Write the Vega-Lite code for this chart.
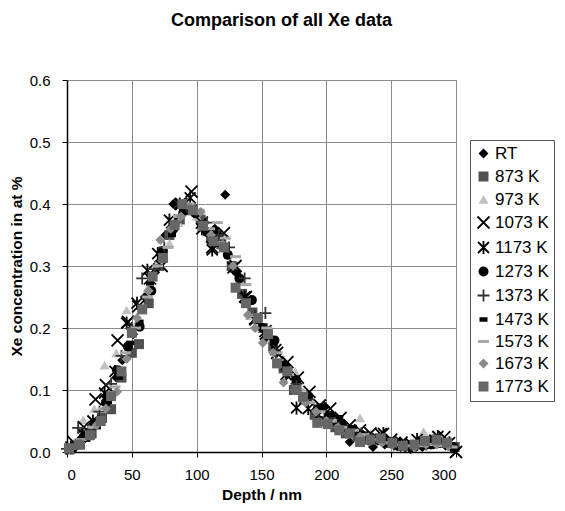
{
  "$schema": "https://vega.github.io/schema/vega-lite/v6.json",
  "width": 389,
  "height": 372,
  "autosize": {"type": "none"},
  "padding": {"left": 67, "top": 80, "right": 109, "bottom": 59},
  "title": {"text": "Comparison of all Xe data", "fontSize": 18, "fontWeight": "bold", "color": "#000000", "frame": "group", "anchor": "middle", "baseline": "alphabetic", "offset": 29, "dx": 20},
  "config": {
    "font": "Liberation Sans",
    "view": {"stroke": "#808080", "strokeWidth": 1},
    "axis": {"labelFontSize": 15, "labelColor": "#000000", "titleFontSize": 15.5, "titleFontWeight": "bold", "titleColor": "#000000", "domainColor": "#000000", "domainWidth": 1.5, "tickColor": "#000000", "tickSize": 5, "gridColor": "#8c8c8c", "gridOpacity": 1, "gridWidth": 1},
    "legend": {"labelFontSize": 17, "labelColor": "#000000", "symbolSize": 100, "symbolStrokeWidth": 1.8, "strokeColor": "#555555", "padding": 5, "rowPadding": 4, "labelOffset": 3}
  },
  "data": {"values": [
    {"series":"RT","depth":4,"conc":0.006},{"series":"RT","depth":13,"conc":0.02},{"series":"RT","depth":21,"conc":0.045},{"series":"RT","depth":30,"conc":0.09},{"series":"RT","depth":38,"conc":0.12},{"series":"RT","depth":42.6,"conc":0.148},{"series":"RT","depth":51,"conc":0.19},{"series":"RT","depth":60,"conc":0.25},{"series":"RT","depth":68,"conc":0.29},{"series":"RT","depth":76,"conc":0.35},{"series":"RT","depth":82,"conc":0.4},{"series":"RT","depth":90,"conc":0.39},{"series":"RT","depth":98,"conc":0.385},{"series":"RT","depth":106,"conc":0.37},{"series":"RT","depth":114,"conc":0.36},{"series":"RT","depth":122,"conc":0.415},{"series":"RT","depth":130,"conc":0.29},{"series":"RT","depth":138,"conc":0.245},{"series":"RT","depth":146,"conc":0.215},{"series":"RT","depth":154,"conc":0.185},{"series":"RT","depth":162,"conc":0.16},{"series":"RT","depth":170,"conc":0.125},{"series":"RT","depth":178,"conc":0.1},{"series":"RT","depth":186,"conc":0.085},{"series":"RT","depth":192,"conc":0.068},{"series":"RT","depth":199,"conc":0.073},{"series":"RT","depth":210,"conc":0.045},{"series":"RT","depth":218,"conc":0.016},{"series":"RT","depth":227,"conc":0.03},{"series":"RT","depth":236,"conc":0.008},{"series":"RT","depth":245,"conc":0.012},{"series":"RT","depth":257,"conc":0.017},{"series":"RT","depth":265,"conc":0.005},{"series":"RT","depth":274,"conc":0.008},{"series":"RT","depth":283,"conc":0.012},{"series":"RT","depth":292,"conc":0.01},
    {"series":"873 K","depth":2,"conc":0.004},{"series":"873 K","depth":10,"conc":0.012},{"series":"873 K","depth":19,"conc":0.03},{"series":"873 K","depth":27,"conc":0.055},{"series":"873 K","depth":34,"conc":0.069},{"series":"873 K","depth":42,"conc":0.12},{"series":"873 K","depth":50,"conc":0.16},{"series":"873 K","depth":55.5,"conc":0.174},{"series":"873 K","depth":63,"conc":0.24},{"series":"873 K","depth":71,"conc":0.3},{"series":"873 K","depth":79,"conc":0.35},{"series":"873 K","depth":87,"conc":0.375},{"series":"873 K","depth":95,"conc":0.39},{"series":"873 K","depth":103,"conc":0.375},{"series":"873 K","depth":111,"conc":0.345},{"series":"873 K","depth":119,"conc":0.335},{"series":"873 K","depth":127,"conc":0.3},{"series":"873 K","depth":135,"conc":0.255},{"series":"873 K","depth":143,"conc":0.225},{"series":"873 K","depth":151,"conc":0.2},{"series":"873 K","depth":159,"conc":0.17},{"series":"873 K","depth":167,"conc":0.135},{"series":"873 K","depth":175,"conc":0.1},{"series":"873 K","depth":183,"conc":0.085},{"series":"873 K","depth":191,"conc":0.06},{"series":"873 K","depth":199,"conc":0.05},{"series":"873 K","depth":207,"conc":0.04},{"series":"873 K","depth":215,"conc":0.03},{"series":"873 K","depth":224,"conc":0.025},{"series":"873 K","depth":232,"conc":0.02},{"series":"873 K","depth":241,"conc":0.022},{"series":"873 K","depth":249,"conc":0.015},{"series":"873 K","depth":258,"conc":0.01},{"series":"873 K","depth":266,"conc":0.01},{"series":"873 K","depth":274,"conc":0.015},{"series":"873 K","depth":283,"conc":0.02},{"series":"873 K","depth":291,"conc":0.015},{"series":"873 K","depth":299,"conc":0.008},
    {"series":"973 K","depth":4,"conc":0.01},{"series":"973 K","depth":12.5,"conc":0.052},{"series":"973 K","depth":21,"conc":0.07},{"series":"973 K","depth":29,"conc":0.14},{"series":"973 K","depth":38,"conc":0.16},{"series":"973 K","depth":46,"conc":0.229},{"series":"973 K","depth":54,"conc":0.21},{"series":"973 K","depth":62,"conc":0.264},{"series":"973 K","depth":71,"conc":0.31},{"series":"973 K","depth":79,"conc":0.337},{"series":"973 K","depth":86,"conc":0.37},{"series":"973 K","depth":92,"conc":0.406},{"series":"973 K","depth":100,"conc":0.38},{"series":"973 K","depth":108,"conc":0.355},{"series":"973 K","depth":116,"conc":0.34},{"series":"973 K","depth":125,"conc":0.32},{"series":"973 K","depth":133,"conc":0.28},{"series":"973 K","depth":141,"conc":0.22},{"series":"973 K","depth":150,"conc":0.2},{"series":"973 K","depth":158,"conc":0.185},{"series":"973 K","depth":167,"conc":0.15},{"series":"973 K","depth":176,"conc":0.13},{"series":"973 K","depth":184,"conc":0.09},{"series":"973 K","depth":192,"conc":0.07},{"series":"973 K","depth":201,"conc":0.055},{"series":"973 K","depth":209,"conc":0.05},{"series":"973 K","depth":217,"conc":0.04},{"series":"973 K","depth":226,"conc":0.055},{"series":"973 K","depth":234,"conc":0.03},{"series":"973 K","depth":242,"conc":0.02},{"series":"973 K","depth":250,"conc":0.015},{"series":"973 K","depth":258,"conc":0.012},{"series":"973 K","depth":267,"conc":0.015},{"series":"973 K","depth":275,"conc":0.033},{"series":"973 K","depth":283,"conc":0.02},{"series":"973 K","depth":292,"conc":0.018},
    {"series":"1073 K","depth":5,"conc":0.016},{"series":"1073 K","depth":13,"conc":0.04},{"series":"1073 K","depth":22,"conc":0.085},{"series":"1073 K","depth":30,"conc":0.108},{"series":"1073 K","depth":39,"conc":0.18},{"series":"1073 K","depth":47,"conc":0.21},{"series":"1073 K","depth":55,"conc":0.235},{"series":"1073 K","depth":64,"conc":0.28},{"series":"1073 K","depth":73,"conc":0.3},{"series":"1073 K","depth":81,"conc":0.37},{"series":"1073 K","depth":88,"conc":0.4},{"series":"1073 K","depth":96,"conc":0.42},{"series":"1073 K","depth":104,"conc":0.37},{"series":"1073 K","depth":112,"conc":0.33},{"series":"1073 K","depth":121,"conc":0.353},{"series":"1073 K","depth":130,"conc":0.3},{"series":"1073 K","depth":138,"conc":0.25},{"series":"1073 K","depth":145,"conc":0.215},{"series":"1073 K","depth":153,"conc":0.195},{"series":"1073 K","depth":162,"conc":0.16},{"series":"1073 K","depth":170,"conc":0.145},{"series":"1073 K","depth":178,"conc":0.12},{"series":"1073 K","depth":187,"conc":0.097},{"series":"1073 K","depth":195,"conc":0.075},{"series":"1073 K","depth":203,"conc":0.07},{"series":"1073 K","depth":211,"conc":0.055},{"series":"1073 K","depth":218,"conc":0.043},{"series":"1073 K","depth":226,"conc":0.035},{"series":"1073 K","depth":234,"conc":0.03},{"series":"1073 K","depth":242,"conc":0.029},{"series":"1073 K","depth":250,"conc":0.02},{"series":"1073 K","depth":258,"conc":0.015},{"series":"1073 K","depth":266,"conc":0.012},{"series":"1073 K","depth":275,"conc":0.015},{"series":"1073 K","depth":284,"conc":0.018},{"series":"1073 K","depth":291,"conc":0.024},{"series":"1073 K","depth":300,"conc":0.0},
    {"series":"1173 K","depth":3,"conc":0.008},{"series":"1173 K","depth":12,"conc":0.03},{"series":"1173 K","depth":20,"conc":0.05},{"series":"1173 K","depth":29,"conc":0.095},{"series":"1173 K","depth":37,"conc":0.13},{"series":"1173 K","depth":46,"conc":0.208},{"series":"1173 K","depth":54,"conc":0.24},{"series":"1173 K","depth":62,"conc":0.293},{"series":"1173 K","depth":70,"conc":0.32},{"series":"1173 K","depth":79,"conc":0.374},{"series":"1173 K","depth":87,"conc":0.4},{"series":"1173 K","depth":95,"conc":0.41},{"series":"1173 K","depth":104,"conc":0.36},{"series":"1173 K","depth":112,"conc":0.326},{"series":"1173 K","depth":120,"conc":0.34},{"series":"1173 K","depth":128,"conc":0.297},{"series":"1173 K","depth":137,"conc":0.25},{"series":"1173 K","depth":145,"conc":0.213},{"series":"1173 K","depth":153,"conc":0.19},{"series":"1173 K","depth":161,"conc":0.165},{"series":"1173 K","depth":169,"conc":0.125},{"series":"1173 K","depth":177,"conc":0.071},{"series":"1173 K","depth":186,"conc":0.07},{"series":"1173 K","depth":194,"conc":0.06},{"series":"1173 K","depth":203,"conc":0.05},{"series":"1173 K","depth":211,"conc":0.04},{"series":"1173 K","depth":219,"conc":0.035},{"series":"1173 K","depth":228,"conc":0.025},{"series":"1173 K","depth":236,"conc":0.02},{"series":"1173 K","depth":244,"conc":0.03},{"series":"1173 K","depth":253,"conc":0.015},{"series":"1173 K","depth":261,"conc":0.01},{"series":"1173 K","depth":270,"conc":0.02},{"series":"1173 K","depth":278,"conc":0.015},{"series":"1173 K","depth":286,"conc":0.025},{"series":"1173 K","depth":295,"conc":0.015},
    {"series":"1273 K","depth":5,"conc":0.008},{"series":"1273 K","depth":13,"conc":0.025},{"series":"1273 K","depth":21,"conc":0.047},{"series":"1273 K","depth":30,"conc":0.08},{"series":"1273 K","depth":38.5,"conc":0.132},{"series":"1273 K","depth":47,"conc":0.17},{"series":"1273 K","depth":56,"conc":0.202},{"series":"1273 K","depth":65,"conc":0.26},{"series":"1273 K","depth":74,"conc":0.324},{"series":"1273 K","depth":82,"conc":0.36},{"series":"1273 K","depth":91,"conc":0.39},{"series":"1273 K","depth":99,"conc":0.385},{"series":"1273 K","depth":108,"conc":0.355},{"series":"1273 K","depth":116,"conc":0.35},{"series":"1273 K","depth":124,"conc":0.318},{"series":"1273 K","depth":133,"conc":0.28},{"series":"1273 K","depth":142.6,"conc":0.245},{"series":"1273 K","depth":151,"conc":0.2},{"series":"1273 K","depth":160,"conc":0.18},{"series":"1273 K","depth":168,"conc":0.14},{"series":"1273 K","depth":177,"conc":0.115},{"series":"1273 K","depth":186,"conc":0.09},{"series":"1273 K","depth":195,"conc":0.07},{"series":"1273 K","depth":203,"conc":0.058},{"series":"1273 K","depth":212,"conc":0.045},{"series":"1273 K","depth":220,"conc":0.035},{"series":"1273 K","depth":229,"conc":0.025},{"series":"1273 K","depth":238,"conc":0.02},{"series":"1273 K","depth":246,"conc":0.015},{"series":"1273 K","depth":255,"conc":0.01},{"series":"1273 K","depth":264,"conc":0.01},{"series":"1273 K","depth":272,"conc":0.012},{"series":"1273 K","depth":281,"conc":0.012},{"series":"1273 K","depth":290,"conc":0.015},{"series":"1273 K","depth":298,"conc":0.008},
    {"series":"1373 K","depth":0,"conc":0.005},{"series":"1373 K","depth":8.6,"conc":0.039},{"series":"1373 K","depth":17,"conc":0.035},{"series":"1373 K","depth":25,"conc":0.065},{"series":"1373 K","depth":34,"conc":0.11},{"series":"1373 K","depth":42,"conc":0.155},{"series":"1373 K","depth":50,"conc":0.2},{"series":"1373 K","depth":58,"conc":0.28},{"series":"1373 K","depth":67,"conc":0.295},{"series":"1373 K","depth":75,"conc":0.33},{"series":"1373 K","depth":83,"conc":0.37},{"series":"1373 K","depth":92,"conc":0.395},{"series":"1373 K","depth":100,"conc":0.39},{"series":"1373 K","depth":108,"conc":0.37},{"series":"1373 K","depth":117,"conc":0.35},{"series":"1373 K","depth":125,"conc":0.33},{"series":"1373 K","depth":137,"conc":0.28},{"series":"1373 K","depth":145,"conc":0.22},{"series":"1373 K","depth":153,"conc":0.224},{"series":"1373 K","depth":161,"conc":0.16},{"series":"1373 K","depth":169,"conc":0.132},{"series":"1373 K","depth":177,"conc":0.11},{"series":"1373 K","depth":186,"conc":0.085},{"series":"1373 K","depth":194,"conc":0.065},{"series":"1373 K","depth":202,"conc":0.055},{"series":"1373 K","depth":210,"conc":0.04},{"series":"1373 K","depth":219,"conc":0.035},{"series":"1373 K","depth":227,"conc":0.03},{"series":"1373 K","depth":235,"conc":0.02},{"series":"1373 K","depth":244,"conc":0.02},{"series":"1373 K","depth":252,"conc":0.012},{"series":"1373 K","depth":260,"conc":0.01},{"series":"1373 K","depth":269,"conc":0.01},{"series":"1373 K","depth":277,"conc":0.012},{"series":"1373 K","depth":285,"conc":0.015},{"series":"1373 K","depth":294,"conc":0.012},
    {"series":"1473 K","depth":6,"conc":0.008},{"series":"1473 K","depth":15,"conc":0.02},{"series":"1473 K","depth":23,"conc":0.04},{"series":"1473 K","depth":31.6,"conc":0.081},{"series":"1473 K","depth":40,"conc":0.12},{"series":"1473 K","depth":48.6,"conc":0.176},{"series":"1473 K","depth":56,"conc":0.21},{"series":"1473 K","depth":64,"conc":0.272},{"series":"1473 K","depth":72,"conc":0.32},{"series":"1473 K","depth":81,"conc":0.35},{"series":"1473 K","depth":89,"conc":0.385},{"series":"1473 K","depth":97,"conc":0.395},{"series":"1473 K","depth":105,"conc":0.37},{"series":"1473 K","depth":114,"conc":0.345},{"series":"1473 K","depth":122,"conc":0.33},{"series":"1473 K","depth":131,"conc":0.29},{"series":"1473 K","depth":139,"conc":0.24},{"series":"1473 K","depth":147,"conc":0.21},{"series":"1473 K","depth":155,"conc":0.185},{"series":"1473 K","depth":160,"conc":0.18},{"series":"1473 K","depth":168,"conc":0.14},{"series":"1473 K","depth":176,"conc":0.12},{"series":"1473 K","depth":185,"conc":0.09},{"series":"1473 K","depth":193,"conc":0.073},{"series":"1473 K","depth":201,"conc":0.06},{"series":"1473 K","depth":210,"conc":0.056},{"series":"1473 K","depth":218,"conc":0.04},{"series":"1473 K","depth":227,"conc":0.03},{"series":"1473 K","depth":235,"conc":0.025},{"series":"1473 K","depth":244,"conc":0.018},{"series":"1473 K","depth":252,"conc":0.012},{"series":"1473 K","depth":261,"conc":0.008},{"series":"1473 K","depth":269,"conc":0.01},{"series":"1473 K","depth":278,"conc":0.012},{"series":"1473 K","depth":286,"conc":0.01},{"series":"1473 K","depth":295,"conc":0.01},
    {"series":"1573 K","depth":3,"conc":0.006},{"series":"1573 K","depth":11,"conc":0.02},{"series":"1573 K","depth":20,"conc":0.04},{"series":"1573 K","depth":28,"conc":0.07},{"series":"1573 K","depth":37,"conc":0.105},{"series":"1573 K","depth":45,"conc":0.16},{"series":"1573 K","depth":53,"conc":0.2},{"series":"1573 K","depth":62,"conc":0.25},{"series":"1573 K","depth":70,"conc":0.3},{"series":"1573 K","depth":78,"conc":0.33},{"series":"1573 K","depth":86,"conc":0.38},{"series":"1573 K","depth":94,"conc":0.4},{"series":"1573 K","depth":102,"conc":0.39},{"series":"1573 K","depth":110,"conc":0.36},{"series":"1573 K","depth":116,"conc":0.37},{"series":"1573 K","depth":122,"conc":0.345},{"series":"1573 K","depth":130,"conc":0.315},{"series":"1573 K","depth":138,"conc":0.27},{"series":"1573 K","depth":146,"conc":0.22},{"series":"1573 K","depth":154,"conc":0.2},{"series":"1573 K","depth":162,"conc":0.16},{"series":"1573 K","depth":171,"conc":0.125},{"series":"1573 K","depth":179,"conc":0.1},{"series":"1573 K","depth":187,"conc":0.08},{"series":"1573 K","depth":195,"conc":0.065},{"series":"1573 K","depth":204,"conc":0.05},{"series":"1573 K","depth":212,"conc":0.04},{"series":"1573 K","depth":221,"conc":0.035},{"series":"1573 K","depth":229,"conc":0.028},{"series":"1573 K","depth":238,"conc":0.02},{"series":"1573 K","depth":246,"conc":0.015},{"series":"1573 K","depth":255,"conc":0.012},{"series":"1573 K","depth":263,"conc":0.01},{"series":"1573 K","depth":272,"conc":0.01},{"series":"1573 K","depth":280,"conc":0.012},{"series":"1573 K","depth":289,"conc":0.01},{"series":"1573 K","depth":297,"conc":0.008},
    {"series":"1673 K","depth":2,"conc":0.005},{"series":"1673 K","depth":10,"conc":0.015},{"series":"1673 K","depth":23,"conc":0.044},{"series":"1673 K","depth":30,"conc":0.07},{"series":"1673 K","depth":38.5,"conc":0.097},{"series":"1673 K","depth":46,"conc":0.15},{"series":"1673 K","depth":54,"conc":0.216},{"series":"1673 K","depth":63,"conc":0.26},{"series":"1673 K","depth":72,"conc":0.342},{"series":"1673 K","depth":80,"conc":0.36},{"series":"1673 K","depth":88,"conc":0.38},{"series":"1673 K","depth":95,"conc":0.395},{"series":"1673 K","depth":103,"conc":0.387},{"series":"1673 K","depth":111,"conc":0.35},{"series":"1673 K","depth":120,"conc":0.335},{"series":"1673 K","depth":128,"conc":0.3},{"series":"1673 K","depth":139.5,"conc":0.221},{"series":"1673 K","depth":145,"conc":0.2},{"series":"1673 K","depth":151,"conc":0.176},{"series":"1673 K","depth":159,"conc":0.16},{"series":"1673 K","depth":167,"conc":0.112},{"series":"1673 K","depth":176,"conc":0.1},{"series":"1673 K","depth":184,"conc":0.08},{"series":"1673 K","depth":192,"conc":0.065},{"series":"1673 K","depth":200,"conc":0.05},{"series":"1673 K","depth":209,"conc":0.04},{"series":"1673 K","depth":217,"conc":0.03},{"series":"1673 K","depth":226,"conc":0.025},{"series":"1673 K","depth":234,"conc":0.018},{"series":"1673 K","depth":243,"conc":0.015},{"series":"1673 K","depth":251,"conc":0.012},{"series":"1673 K","depth":260,"conc":0.01},{"series":"1673 K","depth":268,"conc":0.008},{"series":"1673 K","depth":277,"conc":0.012},{"series":"1673 K","depth":285,"conc":0.012},{"series":"1673 K","depth":294,"conc":0.01},
    {"series":"1773 K","depth":1.5,"conc":0.006},{"series":"1773 K","depth":9,"conc":0.012},{"series":"1773 K","depth":17.6,"conc":0.027},{"series":"1773 K","depth":26,"conc":0.05},{"series":"1773 K","depth":34,"conc":0.09},{"series":"1773 K","depth":42,"conc":0.13},{"series":"1773 K","depth":50,"conc":0.192},{"series":"1773 K","depth":58,"conc":0.23},{"series":"1773 K","depth":66,"conc":0.283},{"series":"1773 K","depth":74,"conc":0.313},{"series":"1773 K","depth":83,"conc":0.366},{"series":"1773 K","depth":89,"conc":0.4},{"series":"1773 K","depth":97,"conc":0.39},{"series":"1773 K","depth":105,"conc":0.365},{"series":"1773 K","depth":113,"conc":0.34},{"series":"1773 K","depth":121,"conc":0.33},{"series":"1773 K","depth":130,"conc":0.265},{"series":"1773 K","depth":138,"conc":0.24},{"series":"1773 K","depth":147,"conc":0.216},{"series":"1773 K","depth":155,"conc":0.19},{"series":"1773 K","depth":162,"conc":0.143},{"series":"1773 K","depth":170,"conc":0.13},{"series":"1773 K","depth":177,"conc":0.1},{"series":"1773 K","depth":182,"conc":0.089},{"series":"1773 K","depth":193,"conc":0.047},{"series":"1773 K","depth":201,"conc":0.045},{"series":"1773 K","depth":210,"conc":0.035},{"series":"1773 K","depth":218,"conc":0.03},{"series":"1773 K","depth":226,"conc":0.016},{"series":"1773 K","depth":234,"conc":0.02},{"series":"1773 K","depth":242,"conc":0.022},{"series":"1773 K","depth":251,"conc":0.015},{"series":"1773 K","depth":259,"conc":0.01},{"series":"1773 K","depth":268,"conc":0.012},{"series":"1773 K","depth":276,"conc":0.018},{"series":"1773 K","depth":285,"conc":0.02},{"series":"1773 K","depth":293,"conc":0.015}
  ]},
  "mark": {"type": "point", "opacity": 1, "size": 100, "strokeWidth": 1.8, "clip": false},
  "encoding": {
    "x": {"field": "depth", "type": "quantitative", "scale": {"domain": [0, 300], "nice": false}, "axis": {"title": "Depth / nm", "values": [0, 50, 100, 150, 200, 250, 300], "labelPadding": 10, "titlePadding": 5}},
    "y": {"field": "conc", "type": "quantitative", "scale": {"domain": [0, 0.6], "nice": false}, "axis": {"title": "Xe concentration in at %", "values": [0, 0.1, 0.2, 0.3, 0.4, 0.5, 0.6], "format": ".1f", "labelPadding": 12, "titlePadding": 5}},
    "shape": {"field": "series", "type": "nominal", "scale": {"domain": ["RT","873 K","973 K","1073 K","1173 K","1273 K","1373 K","1473 K","1573 K","1673 K","1773 K"], "range": ["diamond","square","triangle-up","M-1.2,-1.2L1.2,1.2M-1.2,1.2L1.2,-1.2","M-1.1,-1.1L1.1,1.1M-1.1,1.1L1.1,-1.1M0,-1.3L0,1.3","circle","M-1.2,0L1.2,0M0,-1.2L0,1.2","M-0.8,-0.45L0.8,-0.45L0.8,0.45L-0.8,0.45Z","M-1.1,-0.3L1.1,-0.3L1.1,0.3L-1.1,0.3Z","diamond","square"]}, "legend": {"title": null, "orient": "none", "legendX": 403, "legendY": 60}},
    "fill": {"field": "series", "type": "nominal", "scale": {"domain": ["RT","873 K","973 K","1073 K","1173 K","1273 K","1373 K","1473 K","1573 K","1673 K","1773 K"], "range": ["#000000","#505050","#c0c0c0","transparent","transparent","#000000","transparent","#000000","#a8a8a8","#8a8a8a","#666666"]}, "legend": {"title": null, "orient": "none", "legendX": 403, "legendY": 60}},
    "stroke": {"field": "series", "type": "nominal", "scale": {"domain": ["RT","873 K","973 K","1073 K","1173 K","1273 K","1373 K","1473 K","1573 K","1673 K","1773 K"], "range": ["transparent","transparent","transparent","#000000","#000000","transparent","#333333","transparent","transparent","transparent","transparent"]}, "legend": {"title": null, "orient": "none", "legendX": 403, "legendY": 60}}
  }
}
